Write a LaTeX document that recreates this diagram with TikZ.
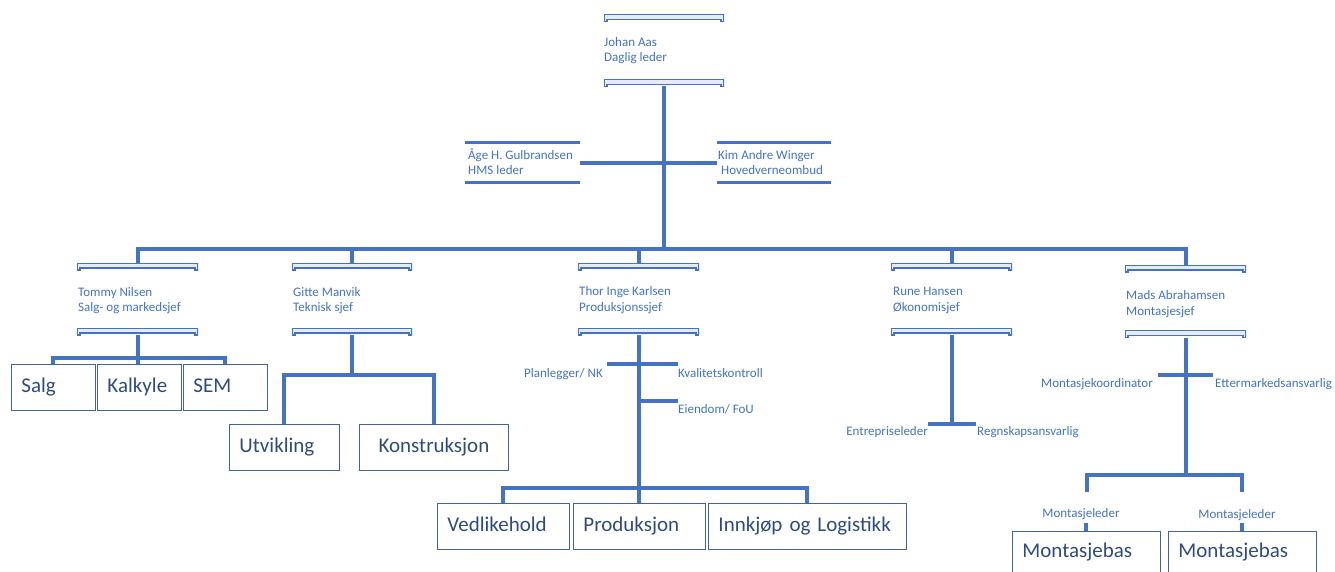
\documentclass[tikz,border=0pt]{standalone}
\usepackage{fontspec}
\setmainfont{Carlito}
\usepackage{tikz}
\usetikzlibrary{positioning,calc}
\definecolor{lineblue}{HTML}{4472C4}
\definecolor{barfill}{HTML}{E6EBF4}
\definecolor{boxline}{HTML}{44639A}
\definecolor{boxtext}{HTML}{2F4B7C}

\begin{document}
\begin{tikzpicture}[x=1pt, y=-1pt,
    link/.style = {draw=lineblue, line width=4pt},
    orgbar/.style = {minimum width=#1, minimum height=7pt, inner sep=0pt, outer sep=0pt, fill=barfill,
      path picture = {
        \fill[white] ([xshift=3pt]path picture bounding box.south west) rectangle ([xshift=-3pt,yshift=2pt]path picture bounding box.south east);
        \draw[lineblue, line width=1.2pt] (path picture bounding box.south west) -- (path picture bounding box.north west) -- (path picture bounding box.north east) -- (path picture bounding box.south east) -- ++(-3pt,0pt) -- ++(0pt,2pt) -- ([xshift=3pt,yshift=2pt]path picture bounding box.south west) -- ++(0pt,-2pt) -- cycle;
      }},
    flatbar/.style = {minimum width=#1, minimum height=3pt, inner sep=0pt, outer sep=0pt, fill=lineblue},
    who/.style = {text=lineblue, font=\fontsize{13}{15.3}\selectfont, align=left, anchor=base west, inner sep=0pt},
    lbl/.style = {text=lineblue, font=\fontsize{13}{15}\selectfont, inner sep=0pt},
    unit/.style = {draw=boxline, line width=0.9pt, text=boxtext, font=\fontsize{21}{24}\selectfont, anchor=north west, inner xsep=10pt, inner ysep=0pt, text width=#1, text height=15pt, text depth=5pt, align=left, minimum height=46pt}]

  \useasboundingbox (0,0) rectangle (1335,572);

  \node (ceo-t) [orgbar=120pt] at (664,18) {};
  \node (ceo) [who] at (604,61.5) {Johan Aas\\Daglig leder};
  \node (ceo-b) [orgbar=120pt] at (664,83) {};

  \node (hms-t) [flatbar=115pt] at (522.5,143) {};
  \node (hms) [who] at (468,175) {Åge H. Gulbrandsen\\HMS leder};
  \node (hms-b) [flatbar=115pt] at (522.5,183) {};
  \node (vo-t) [flatbar=114pt] at (774,143) {};
  \node (vo) [who] at (718,175) {Kim Andre Winger\\\hspace*{3pt}Hovedverneombud};
  \node (vo-b) [flatbar=114pt] at (774,183) {};

  \node (tommy-t) [orgbar=121pt] at (137.5,266.5) {};
  \node (tommy) [who] at (78,311.5) {Tommy Nilsen\\Salg- og markedsjef};
  \node (tommy-b) [orgbar=121pt] at (137.5,331.5) {};

  \node (gitte-t) [orgbar=120pt] at (352,266.5) {};
  \node (gitte) [who] at (293,311.5) {Gitte Manvik\\Teknisk sjef};
  \node (gitte-b) [orgbar=120pt] at (352,331.5) {};

  \node (thor-t) [orgbar=121pt] at (638.5,266.5) {};
  \node (thor) [who] at (579,311) {Thor Inge Karlsen\\Produksjonssjef};
  \node (thor-b) [orgbar=121pt] at (638.5,331.5) {};

  \node (rune-t) [orgbar=121pt] at (951.5,266.5) {};
  \node (rune) [who] at (893,311) {Rune Hansen\\Økonomisjef};
  \node (rune-b) [orgbar=121pt] at (951.5,331.5) {};

  \node (mads-t) [orgbar=121pt] at (1185.5,268.5) {};
  \node (mads) [who] at (1126,315) {Mads Abrahamsen\\Montasjesjef};
  \node (mads-b) [orgbar=121pt] at (1185.5,334) {};

  \node (salg) [unit=64pt] at (11,364) {Salg};
  \node (kalkyle) [unit=64pt] at (97,364) {Kalkyle};
  \node (sem) [unit=64pt] at (183,364) {SEM};
  \node (utv) [unit=90pt] at (229,424) {Utvikling};
  \node (kons) [unit=129pt, align=center] at (359,424) {Konstruksjon};
  \node (vedl) [unit=112pt] at (437,503) {Vedlikehold};
  \node (prod) [unit=112pt] at (573,503) {Produksjon};
  \node (innk) [unit=178pt] at (708,503) {Innkjøp og Logistikk};
  \node (mb1) [unit=128pt, minimum height=43pt] at (1012,531) {Montasjebas};
  \node (mb2) [unit=128pt, minimum height=43pt] at (1168,531) {Montasjebas};

  \coordinate (staff) at (0,163);
  \coordinate (bus) at (0,249);
  \coordinate (sales-bus) at (0,358);
  \coordinate (tech-bus) at (0,375);
  \coordinate (prod-bus) at (0,488);
  \coordinate (mads-bus) at (0,475);

  \coordinate (plan-end) at (607,364);
  \coordinate (kval-end) at (678,364);
  \coordinate (eien-end) at (678,401);
  \coordinate (entre-end) at (928,424);
  \coordinate (regn-end) at (976,424);
  \coordinate (koord-end) at (1158,375);
  \coordinate (etter-end) at (1213,375);
  \coordinate (mb1-up) at (1087,492);
  \coordinate (mb2-up) at (1242,492);

  \node (plan) [lbl, anchor=base east] at ($ (plan-end) + (-4,13) $) {Planlegger/ NK};
  \node (kval) [lbl, anchor=base west] at ($ (kval-end) + (0,13) $) {Kvalitetskontroll};
  \node (eien) [lbl, anchor=base west] at ($ (eien-end) + (0,12) $) {Eiendom/ FoU};
  \node (entre) [lbl, anchor=base east] at ($ (entre-end) + (0,11) $) {Entrepriseleder};
  \node (regn) [lbl, anchor=base west] at ($ (regn-end) + (1,11) $) {Regnskapsansvarlig};
  \node (koord) [lbl, anchor=base east] at ($ (koord-end) + (-5,12) $) {Montasjekoordinator};
  \node (etter) [lbl, anchor=base west] at ($ (etter-end) + (2,12) $) {Ettermarkedsansvarlig};
  \node (ml1) [lbl, anchor=base] at ($ (mb1-up) + (-6,25) $) {Montasjeleder};
  \node (ml2) [lbl, anchor=base] at ($ (mb2-up) + (-5,26) $) {Montasjeleder};

  \draw[link] (ceo-b.south) -- (ceo-b.south |- bus);
  \draw[link] (hms-t.east |- staff) -- (vo-t.west |- staff);
  \draw[link] (tommy-t.north) |- (mads-t.north |- bus) -- (mads-t.north);
  \foreach \n in {gitte,thor,rune}
    \draw[link] (\n-t.north) -- (\n-t.north |- bus);

  \draw[link] (tommy-b.south) -- (tommy-b.south |- kalkyle.north);
  \draw[link] (salg.north) |- (sem.north |- sales-bus) -- (sem.north);

  \draw[link] (gitte-b.south) -- (gitte-b.south |- tech-bus);
  \draw[link] (utv.north) |- (kons.north |- tech-bus) -- (kons.north);

  \draw[link] (thor-b.south) -- (thor-b.south |- prod.north);
  \draw[link] (plan-end) -- (kval-end);
  \draw[link] (thor-b.south |- eien-end) -- (eien-end);
  \draw[link] (vedl.north) |- (innk.north |- prod-bus) -- (innk.north);

  \draw[link] (rune-b.south) -- (rune-b.south |- entre-end);
  \draw[link] (entre-end) -- (regn-end);

  \draw[link] (mads-b.south) -- (mads-b.south |- mads-bus);
  \draw[link] (koord-end) -- (etter-end);
  \draw[link] (mb1-up) |- (mb2-up |- mads-bus) -- (mb2-up);
  \draw[link] (mb1.north) -- ++(0,-8);
  \draw[link] (mb2.north) -- ++(0,-8);
\end{tikzpicture}
\end{document}
